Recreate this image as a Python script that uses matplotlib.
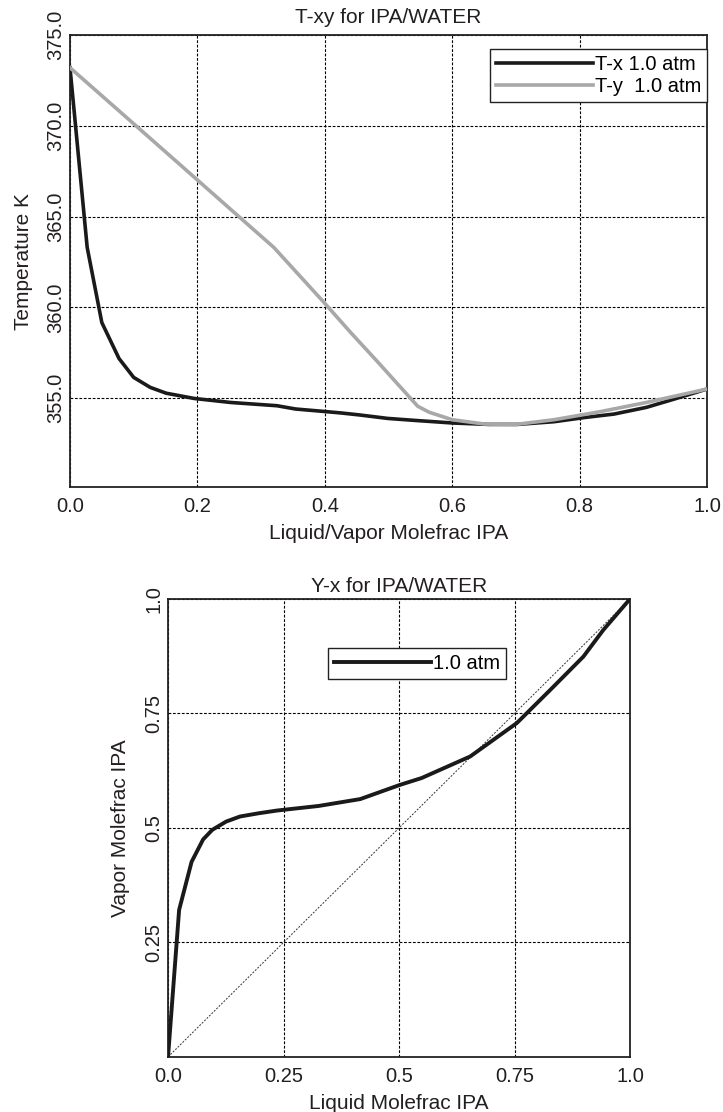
import matplotlib
matplotlib.use("Agg")
import matplotlib.pyplot as plt

# T-xy data (mole fraction IPA, temperature K)
tx_x = [0.0, 0.027, 0.050, 0.077, 0.100, 0.126, 0.151, 0.195, 0.252, 0.325, 0.354,
        0.397, 0.426, 0.455, 0.499, 0.542, 0.600, 0.658, 0.702, 0.760, 0.810,
        0.854, 0.905, 0.949, 1.0]
tx_T = [373.2, 363.3, 359.16, 357.18, 356.14, 355.59, 355.27, 354.98, 354.76, 354.58,
        354.40, 354.27, 354.18, 354.07, 353.88, 353.77, 353.63, 353.55, 353.55,
        353.70, 353.94, 354.12, 354.49, 354.95, 355.5]

ty_y = [0.0, 0.102, 0.320, 0.398, 0.441, 0.484, 0.531, 0.546, 0.564, 0.600, 0.651,
        0.700, 0.760, 0.832, 0.905, 1.0]
ty_T = [373.2, 370.05, 363.3, 360.3, 358.6, 356.96, 355.13, 354.55, 354.22, 353.81,
        353.57, 353.55, 353.81, 354.25, 354.76, 355.5]

# y-x data
yx_x = [0.0, 0.024, 0.051, 0.076, 0.096, 0.126, 0.156, 0.196, 0.236, 0.326, 0.416,
        0.502, 0.549, 0.654, 0.755, 0.827, 0.899, 0.942, 1.0]
yx_y = [0.0, 0.321, 0.426, 0.475, 0.496, 0.514, 0.525, 0.532, 0.538, 0.548, 0.563,
        0.594, 0.609, 0.656, 0.729, 0.801, 0.874, 0.932, 1.0]

top_xticks = [0.0, 0.2, 0.4, 0.6, 0.8, 1.0]
top_yticks = [355.0, 360.0, 365.0, 370.0, 375.0]
bot_xticks = [0.0, 0.25, 0.5, 0.75, 1.0]
bot_xlabels = ["0.0", "0.25", "0.5", "0.75", "1.0"]
bot_yticks = [0.25, 0.5, 0.75, 1.0]
bot_ylabels = ["0.25", "0.5", "0.75", "1.0"]

plt.rcParams["font.family"] = ["Liberation Sans", "DejaVu Sans"]
plt.rcParams["font.size"] = 14.5
TXT = "#231f20"

fig = plt.figure(figsize=(7.23, 11.12), dpi=100)


def style_axes(ax):
    ax.grid(True, color="black", linestyle=(0, (2.5, 1.5)), linewidth=0.8)
    ax.set_axisbelow(True)
    for s in ax.spines.values():
        s.set_color("#222222")
        s.set_linewidth(1.3)
    ax.tick_params(length=0, colors=TXT, labelsize=14.5)
    ax.tick_params(axis="x", pad=7)
    ax.tick_params(axis="y", pad=3.5)
    for lbl in ax.get_yticklabels():
        lbl.set_rotation(90)
        lbl.set_va("center")


# top: T-xy
ax1 = fig.add_axes([0.0968, 0.562, 0.881, 0.4065])
ax1.plot(tx_x, tx_T, color="#1a1a1a", lw=2.6, label="T-x 1.0 atm", zorder=3)
ax1.plot(ty_y, ty_T, color="#a8a8a8", lw=2.6, label="T-y  1.0 atm", zorder=4)
ax1.set_xlim(0, 1)
ax1.set_ylim(350.1, 375)
ax1.set_xticks(top_xticks)
ax1.set_xticklabels([f"{v:.1f}" for v in top_xticks])
ax1.set_yticks(top_yticks)
ax1.set_yticklabels([f"{v:.1f}" for v in top_yticks])
style_axes(ax1)
ax1.set_title("T-xy for IPA/WATER", fontsize=15, color=TXT, pad=9)
ax1.set_xlabel("Liquid/Vapor Molefrac IPA", fontsize=15, color=TXT, labelpad=6)
ax1.set_ylabel("Temperature K", fontsize=15, color=TXT, labelpad=9.5)
leg1 = ax1.legend(loc="upper right", bbox_to_anchor=(1.0, 0.97), borderaxespad=0,
                  fancybox=False, edgecolor="#222222", framealpha=1,
                  handlelength=4.8, handletextpad=0.1, borderpad=0.3,
                  labelspacing=0.15, fontsize=14.5)
leg1.get_frame().set_linewidth(1.0)

# bottom: y-x
ax2 = fig.add_axes([0.2324, 0.0495, 0.639, 0.4119])
ax2.plot([0, 1], [0, 1], color="#333333", lw=0.7, linestyle=(0, (2, 1.5)), zorder=2)
ax2.plot(yx_x, yx_y, color="#1a1a1a", lw=2.8, label="1.0 atm", zorder=3)
ax2.set_xlim(0, 1)
ax2.set_ylim(0, 1)
ax2.set_xticks(bot_xticks)
ax2.set_xticklabels(bot_xlabels)
ax2.set_yticks(bot_yticks)
ax2.set_yticklabels(bot_ylabels)
style_axes(ax2)
ax2.set_title("Y-x for IPA/WATER", fontsize=15, color=TXT, pad=5)
ax2.set_xlabel("Liquid Molefrac IPA", fontsize=15, color=TXT, labelpad=6)
ax2.set_ylabel("Vapor Molefrac IPA", fontsize=15, color=TXT, labelpad=10.5)
leg2 = ax2.legend(loc="upper left", bbox_to_anchor=(0.346, 0.893), borderaxespad=0,
                  fancybox=False, edgecolor="#222222", framealpha=1,
                  handlelength=4.8, handletextpad=0.1, borderpad=0.3,
                  fontsize=14.5)
leg2.get_frame().set_linewidth(1.0)

fig.savefig("out.png", dpi=100)
